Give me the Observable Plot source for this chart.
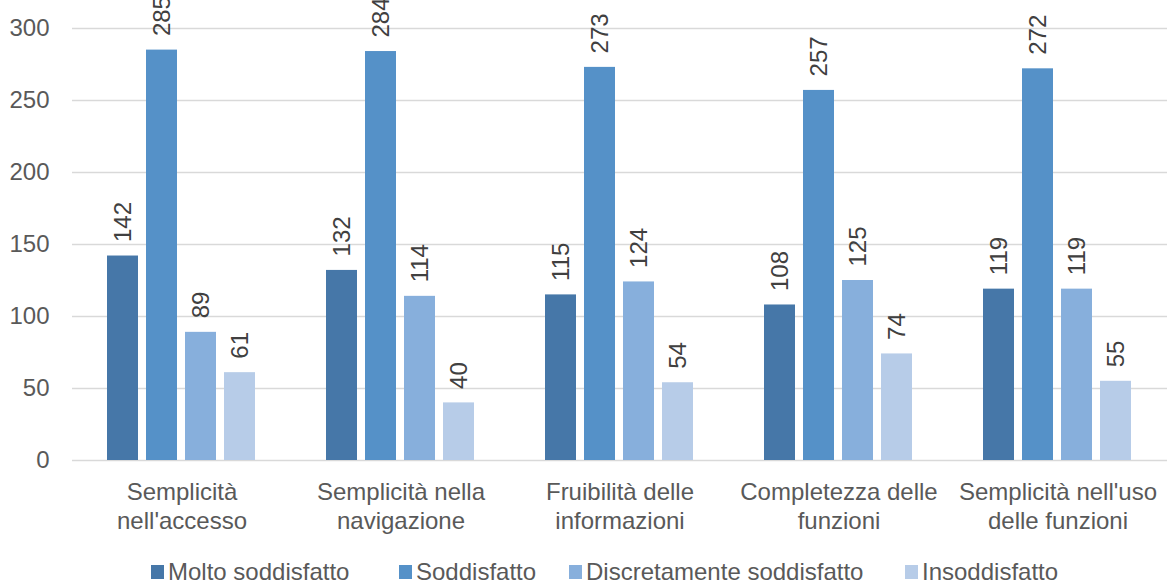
<!DOCTYPE html>
<html><head><meta charset="utf-8">
<script src="https://cdn.jsdelivr.net/npm/d3@7"></script>
<script src="https://cdn.jsdelivr.net/npm/@observablehq/plot@0.6"></script>
<style>
body{margin:0;background:#fff;font-family:"Liberation Sans",Arial,sans-serif;}
#legend{position:relative;height:37px;font-size:24px;color:#595959;}
.item{position:absolute;top:15px;display:flex;align-items:center;white-space:nowrap;line-height:24px}
.sw{width:13px;height:14px;margin-right:4px;}
</style></head><body><div id="chart"></div><div id="legend"></div>
<script>
const categories = ["Semplicità nell'accesso", "Semplicità nella navigazione", "Fruibilità delle informazioni", "Completezza delle funzioni", "Semplicità nell'uso delle funzioni"];
const categoryLabels = ["Semplicità\nnell'accesso", "Semplicità nella\nnavigazione", "Fruibilità delle\ninformazioni", "Completezza delle\nfunzioni", "Semplicità nell'uso\ndelle funzioni"];
const series = ["Molto soddisfatto", "Soddisfatto", "Discretamente soddisfatto", "Insoddisfatto"];
const moltoSoddisfatto = [142, 132, 115, 108, 119];
const soddisfatto = [285, 284, 273, 257, 272];
const discretamenteSoddisfatto = [89, 114, 124, 125, 119];
const insoddisfatto = [61, 40, 54, 74, 55];
const colors = ["#4677a8", "#5591c8", "#87afdc", "#b7cce8"];
const yTicks = [0, 50, 100, 150, 200, 250, 300];

const values = [moltoSoddisfatto, soddisfatto, discretamenteSoddisfatto, insoddisfatto];
const data = categories.flatMap((c, i) => series.map((s, j) => ({category: c, series: s, value: values[j][i]})));
const labelOf = new Map(categories.map((c, i) => [c, categoryLabels[i]]));

const chart = Plot.plot({
  width: 1170, height: 545,
  marginLeft: 70, marginRight: 0, marginTop: 28, marginBottom: 85,
  style: {fontFamily: "'Liberation Sans', Arial, sans-serif", fontSize: "24px", color: "#595959", background: "#fff"},
  fx: {domain: categories, paddingInner: 0.2727, paddingOuter: 0.1364, axis: null, label: null},
  x: {domain: series, paddingInner: 0.2, paddingOuter: 0.1, axis: null},
  y: {domain: [0, 300], axis: null},
  color: {domain: series, range: colors},
  marks: [
    Plot.ruleY(yTicks, {stroke: "#d9d9d9", strokeWidth: 1.5, insetLeft: -30, insetRight: -30}),
    Plot.axisY({ticks: yTicks, tickSize: 0, tickPadding: 53, label: null, fontSize: 24, fill: "#595959"}),
    Plot.barY(data, {fx: "category", x: "series", y: "value", fill: "series"}),
    Plot.text(data, {fx: "category", x: "series", y: "value", text: d => String(d.value), rotate: -90, textAnchor: "start", dy: -14, fill: "#404040", fontSize: 24}),
    Plot.axisFx({anchor: "bottom", tickSize: 0, tickPadding: 19, label: null, fontSize: 24, lineHeight: 1.2, fill: "#595959", tickFormat: d => labelOf.get(d)})
  ]
});
document.getElementById("chart").append(chart);

const legendLefts = [151, 399, 569, 905];
const legend = document.getElementById("legend");
series.forEach((s, i) => {
  const item = document.createElement("div");
  item.className = "item";
  item.style.left = legendLefts[i] + "px";
  const sw = document.createElement("span");
  sw.className = "sw";
  sw.style.background = colors[i];
  const t = document.createElement("span");
  t.textContent = s;
  item.append(sw, t);
  legend.append(item);
});
</script></body></html>
